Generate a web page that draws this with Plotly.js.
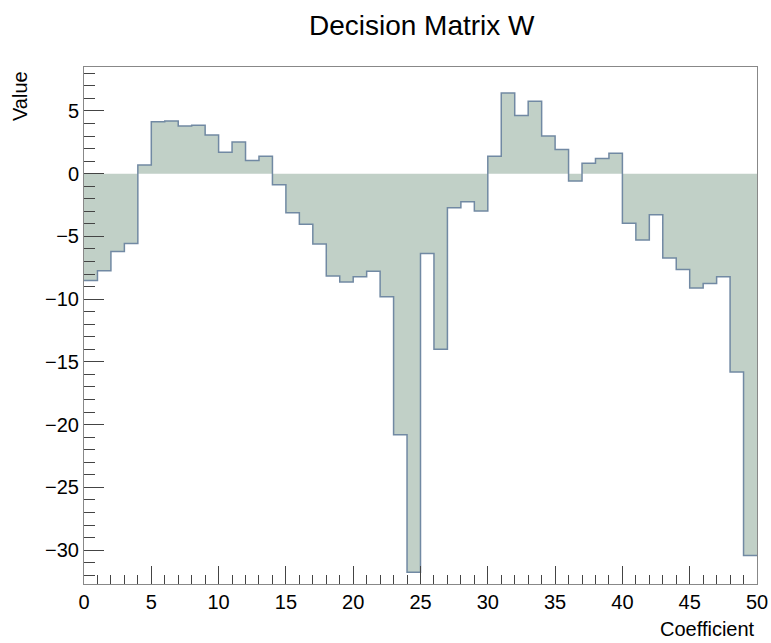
<!DOCTYPE html>
<html>
<head>
<meta charset="utf-8">
<script src="https://cdn.plot.ly/plotly-3.0.1.min.js"></script>
<style>html,body{margin:0;padding:0;background:#fff;}#chart{width:771px;height:643px;}</style>
</head>
<body>
<div id="chart"></div>
<script>
// Bin contents for coefficients 0..49 (bin width 1)
const values = [
  -8.51, -7.74, -6.20, -5.56, 0.69, 4.13, 4.20, 3.80, 3.86, 3.09,
  1.70, 2.53, 1.04, 1.39, -0.88, -3.11, -4.04, -5.61, -8.16, -8.64,
  -8.22, -7.77, -9.81, -20.8, -31.76, -6.36, -14.0, -2.71, -2.23, -2.98,
  1.39, 6.42, 4.63, 5.78, 3.01, 1.92, -0.58, 0.83, 1.20, 1.63,
  -3.96, -5.29, -3.27, -6.73, -7.63, -9.12, -8.75, -8.22, -15.8, -30.43
];
const xTitle = "Coefficient";
const yTitle = "Value";
const chartTitle = "Decision Matrix W";

const edges = values.map((v, i) => i);
edges.push(values.length);
const stepY = values.slice();
stepY.push(values[values.length - 1]);

const trace = {
  type: 'scatter',
  mode: 'lines',
  x: edges,
  y: stepY,
  line: {shape: 'hv', color: '#7189a3', width: 1.5},
  fill: 'tozeroy',
  fillcolor: '#c1d0c7',
  hoverinfo: 'x+y'
};

const font = {family: 'Liberation Sans, Arial, sans-serif', color: '#000'};

const layout = {
  width: 771, height: 643,
  margin: {l: 84, r: 14, t: 67, b: 59},
  paper_bgcolor: '#fff', plot_bgcolor: '#fff',
  showlegend: false,
  font: font,
  title: {text: chartTitle, x: 0.547, xref: 'container', y: 0.961, yref: 'container',
          xanchor: 'center', yanchor: 'middle', font: {family: font.family, size: 28, color: '#000'}},
  xaxis: {
    range: [0, 50], dtick: 5, tick0: 0,
    ticks: 'inside', ticklen: 18, tickwidth: 1, tickcolor: '#444',
    minor: {dtick: 1, ticks: 'inside', ticklen: 9, tickcolor: '#444', showgrid: false},
    showline: true, linecolor: '#888', linewidth: 1, mirror: true,
    showgrid: false, zeroline: false,
    tickfont: {family: font.family, size: 20, color: '#000'}
  },
  yaxis: {
    range: [-32.7, 8.5], dtick: 5, tick0: 0,
    ticks: 'inside', ticklen: 20, tickwidth: 1, tickcolor: '#444',
    minor: {dtick: 1, ticks: 'inside', ticklen: 11, tickcolor: '#444', showgrid: false},
    showline: true, linecolor: '#888', linewidth: 1, mirror: true,
    showgrid: false, zeroline: false,
    tickfont: {family: font.family, size: 20, color: '#000'}
  },
  annotations: [
    {text: xTitle, xref: 'paper', yref: 'paper', x: 1, y: -0.088, xanchor: 'right', yanchor: 'middle',
     showarrow: false, font: {family: font.family, size: 20, color: '#000'}},
    {text: yTitle, xref: 'paper', yref: 'paper', x: -0.095, y: 0.944, xanchor: 'center', yanchor: 'middle',
     textangle: -90, showarrow: false, font: {family: font.family, size: 20, color: '#000'}}
  ]
};

Plotly.newPlot('chart', [trace], layout, {displayModeBar: false, staticPlot: true});
</script>
</body>
</html>
